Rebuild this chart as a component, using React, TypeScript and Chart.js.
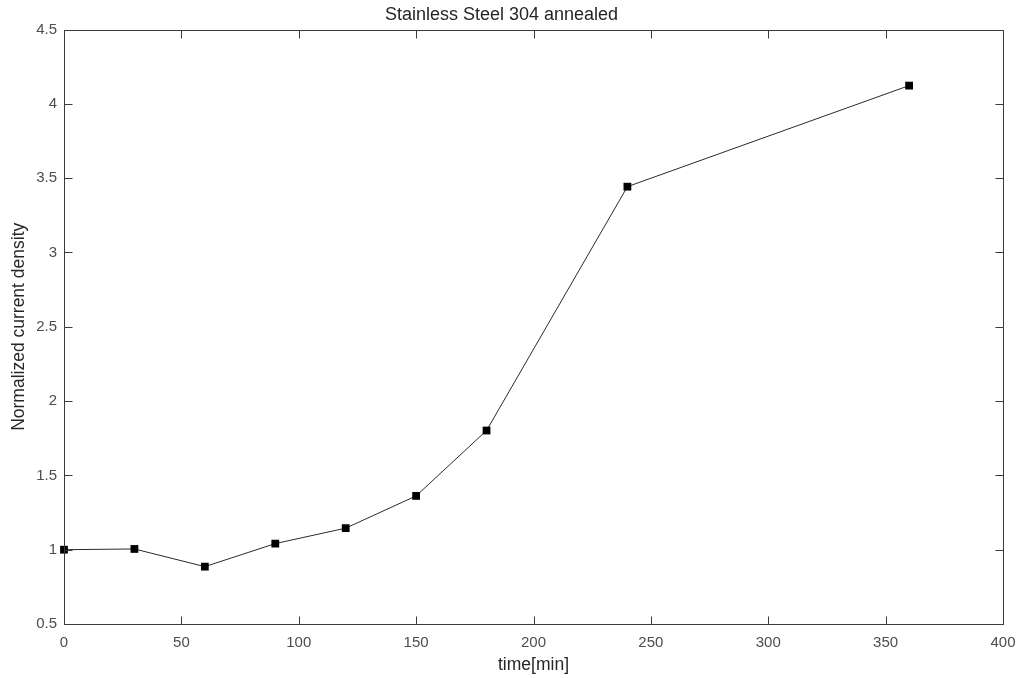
import React, { useEffect, useRef } from "react";
import { Chart, registerables } from "chart.js";

Chart.register(...registerables);

const timeMin = [0, 30, 60, 90, 120, 150, 180, 240, 360];
const currentDensity = [1.0, 1.005, 0.886, 1.041, 1.145, 1.362, 1.802, 3.443, 4.123];
const xTickValues = [0, 50, 100, 150, 200, 250, 300, 350, 400];
const yTickValues = [0.5, 1, 1.5, 2, 2.5, 3, 3.5, 4, 4.5];
const titleText = "Stainless Steel 304 annealed";
const xLabel = "time[min]";
const yLabel = "Normalized current density";

const FONT = "'Liberation Sans', Arial, Helvetica, sans-serif";

const boxTicksPlugin = {
  id: "boxTicks",
  afterDraw(chart: any) {
    const { ctx, chartArea } = chart;
    const { left, right, top, bottom } = chartArea;
    const xs = chart.scales.x;
    const ys = chart.scales.y;
    const len = 8;
    ctx.save();
    ctx.strokeStyle = "#3a3a3a";
    ctx.lineWidth = 1;
    ctx.beginPath();
    const L = Math.round(left) + 0.5;
    const R = Math.round(right) + 0.5;
    const T = Math.round(top) + 0.5;
    const B = Math.round(bottom) + 0.5;
    ctx.rect(L, T, R - L, B - T);
    xTickValues.forEach((v) => {
      const px = Math.round(xs.getPixelForValue(v)) + 0.5;
      ctx.moveTo(px, B);
      ctx.lineTo(px, B - len);
      ctx.moveTo(px, T);
      ctx.lineTo(px, T + len);
    });
    yTickValues.forEach((v) => {
      const py = Math.round(ys.getPixelForValue(v)) + 0.5;
      ctx.moveTo(L, py);
      ctx.lineTo(L + len, py);
      ctx.moveTo(R, py);
      ctx.lineTo(R - len, py);
    });
    ctx.stroke();
    ctx.restore();
  },
};

export default function App() {
  const canvasRef = useRef<HTMLCanvasElement | null>(null);

  useEffect(() => {
    const canvas = canvasRef.current;
    if (!canvas) return;
    const chart = new Chart(canvas, {
      type: "line",
      data: {
        labels: timeMin,
        datasets: [
          {
            data: timeMin.map((t, i) => ({ x: t, y: currentDensity[i] })),
            borderColor: "#2a2a2a",
            borderWidth: 1,
            backgroundColor: "#000000",
            pointBackgroundColor: "#000000",
            pointBorderColor: "#000000",
            pointBorderWidth: 0,
            pointStyle: "rect",
            pointRadius: 5.5,
            tension: 0,
            fill: false,
            clip: false as any,
          },
        ],
      },
      options: {
        responsive: false,
        animation: false,
        layout: { padding: { top: 0, right: 17, bottom: 0, left: 0 } },
        plugins: {
          legend: { display: false },
          tooltip: { enabled: false },
          title: {
            display: true,
            text: titleText,
            color: "#262626",
            font: { family: FONT, size: 18, weight: "normal", lineHeight: 1.2 },
            padding: { top: 4, bottom: 4 },
          },
        },
        scales: {
          x: {
            type: "linear",
            min: 0,
            max: 400,
            afterBuildTicks: (scale: any) => {
              scale.ticks = xTickValues.map((v) => ({ value: v }));
            },
            afterFit: (scale: any) => {
              scale.height = 54;
              scale.paddingLeft = 0;
              scale.paddingRight = 0;
            },
            grid: { display: false, drawTicks: false },
            border: { display: false },
            ticks: {
              color: "#4d4d4d",
              font: { family: FONT, size: 15 },
              padding: 10,
              maxRotation: 0,
              autoSkip: false,
              callback: (v: any) => String(v),
            },
            title: {
              display: true,
              text: xLabel,
              color: "#262626",
              font: { family: FONT, size: 17.5, lineHeight: 1.2 },
              padding: { top: 0, bottom: 2 },
            },
          },
          y: {
            type: "linear",
            min: 0.5,
            max: 4.5,
            afterBuildTicks: (scale: any) => {
              scale.ticks = yTickValues.map((v) => ({ value: v }));
            },
            afterFit: (scale: any) => {
              scale.width = 64;
              scale.paddingTop = 0;
              scale.paddingBottom = 0;
            },
            grid: { display: false, drawTicks: false },
            border: { display: false },
            ticks: {
              color: "#4d4d4d",
              font: { family: FONT, size: 15 },
              padding: 7,
              autoSkip: false,
              callback: (v: any) => String(v),
            },
            title: {
              display: true,
              text: yLabel,
              color: "#262626",
              font: { family: FONT, size: 17.5, lineHeight: 1.2 },
              padding: { top: 9, bottom: 0 },
            },
          },
        },
      },
      plugins: [boxTicksPlugin],
    });
    return () => chart.destroy();
  }, []);

  return (
    <div style={{ position: "fixed", left: 0, top: 0, width: 1020, height: 678, background: "#ffffff" }}>
      <canvas ref={canvasRef} width={1020} height={678} style={{ display: "block" }} />
    </div>
  );
}
